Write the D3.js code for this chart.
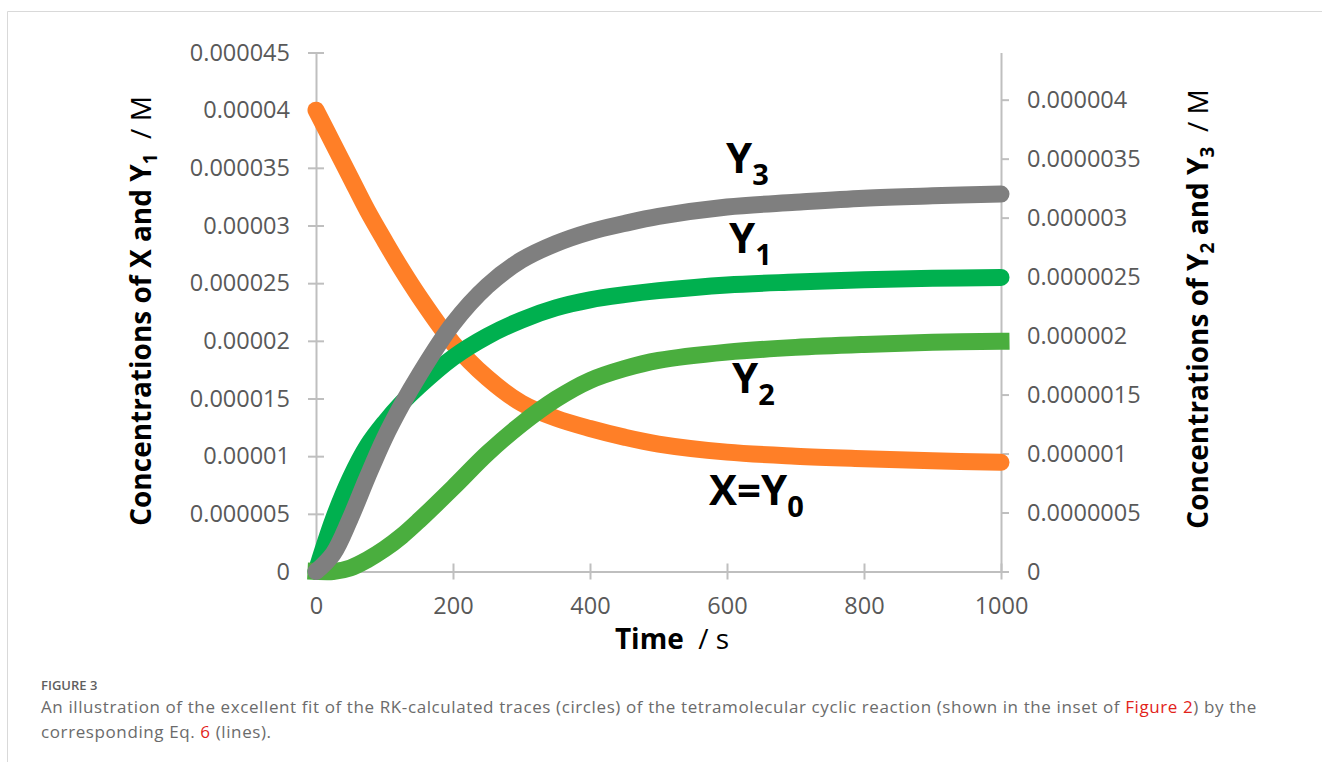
<!DOCTYPE html>
<html>
<head>
<meta charset="utf-8">
<script src="https://cdn.jsdelivr.net/npm/d3@7"></script>
<style>
  html, body { margin: 0; padding: 0; background: #fff; }
  svg { display: block; }
</style>
</head>
<body>
<svg id="chart" width="1322" height="762"></svg>
<script>
// ---- data (concentrations in µM; 1 µM = 1e-6 M) ----
const timePoints = [0, 25, 50, 75, 100, 125, 150, 200, 250, 300, 350, 400, 450, 500, 600, 700, 800, 900, 1000];
const seriesX  = [40.0, 37.1, 34.2, 31.3, 28.7, 26.2, 23.9, 19.8, 16.8, 14.6, 13.3, 12.4, 11.65, 11.05, 10.35, 10.0, 9.78, 9.6, 9.47];
const seriesY1 = [0, 4.5, 8.1, 10.9, 12.9, 14.6, 16.05, 18.55, 20.4, 21.8, 22.85, 23.55, 24.0, 24.35, 24.85, 25.1, 25.3, 25.42, 25.5];
const seriesY2 = [0, 0.0, 0.03, 0.10, 0.19, 0.30, 0.43, 0.71, 1.00, 1.25, 1.46, 1.62, 1.72, 1.79, 1.86, 1.90, 1.925, 1.943, 1.952];
const seriesY3 = [0, 0.15, 0.45, 0.80, 1.13, 1.41, 1.66, 2.10, 2.42, 2.64, 2.78, 2.88, 2.95, 3.01, 3.09, 3.13, 3.165, 3.185, 3.20];

const xTicks = [0, 200, 400, 600, 800, 1000];
const xTickLabels = ["0", "200", "400", "600", "800", "1000"];
const leftTicks = [0, 5, 10, 15, 20, 25, 30, 35, 40, 45];
const leftTickLabels = ["0", "0.000005", "0.00001", "0.000015", "0.00002", "0.000025", "0.00003", "0.000035", "0.00004", "0.000045"];
const rightTicks = [0, 0.5, 1, 1.5, 2, 2.5, 3, 3.5, 4];
const rightTickLabels = ["0", "0.0000005", "0.000001", "0.0000015", "0.000002", "0.0000025", "0.000003", "0.0000035", "0.000004"];
const xDomain = [0, 1000];
const leftDomain = [0, 45];
const rightDomain = [0, 4.4];

// ---- drawing ----
const svg = d3.select("#chart");
const FONT = "'Open Sans', 'DejaVu Sans', sans-serif";
const axisColor = "#bfbfbf";
const tickColor = "#595959";

// outer frame
svg.append("path")
  .attr("d", "M7.5,762 L7.5,11.5 L1322,11.5")
  .attr("fill", "none").attr("stroke", "#d9d9d9").attr("stroke-width", 1);

const x = d3.scaleLinear().domain(xDomain).range([316, 1001]);
const yL = d3.scaleLinear().domain(leftDomain).range([571.5, 52.5]);
const yR = d3.scaleLinear().domain(rightDomain).range([571.5, 52.5]);

function styleAxis(g) {
  g.select(".domain").attr("stroke", axisColor).attr("stroke-width", 2);
  g.selectAll(".tick line").attr("stroke", axisColor).attr("stroke-width", 2);
  g.selectAll(".tick text").attr("fill", tickColor)
    .style("font-family", FONT).style("font-size", "23.5px");
}

// left axis (ticks cross)
const gL = svg.append("g").attr("transform", "translate(316,0)")
  .call(d3.axisLeft(yL).tickValues(leftTicks)
    .tickFormat((d, i) => leftTickLabels[i]).tickSizeOuter(0).tickSizeInner(8).tickPadding(18));
styleAxis(gL);
gL.selectAll(".tick line").attr("x1", 8).attr("x2", -8);

// right axis (ticks outside)
const gR = svg.append("g").attr("transform", "translate(1001,0)")
  .call(d3.axisRight(yR).tickValues(rightTicks)
    .tickFormat((d, i) => rightTickLabels[i]).tickSizeOuter(0).tickSizeInner(8).tickPadding(18));
styleAxis(gR);

// x axis (ticks cross)
const gX = svg.append("g").attr("transform", "translate(0,571.5)")
  .call(d3.axisBottom(x).tickValues(xTicks)
    .tickFormat((d, i) => xTickLabels[i]).tickSizeOuter(0).tickSizeInner(8).tickPadding(18));
styleAxis(gX);
gX.selectAll(".tick line").attr("y1", -8).attr("y2", 8);

// series
const curve = d3.curveCatmullRom.alpha(0.5);
const series = [
  { vals: seriesX,  scale: yL, color: "#ff7f27", cap: "round" },
  { vals: seriesY1, scale: yL, color: "#00b04f", cap: "round" },
  { vals: seriesY2, scale: yR, color: "#4aae3e", cap: "square" },
  { vals: seriesY3, scale: yR, color: "#7f7f7f", cap: "round" }
];
series.forEach(s => {
  const line = d3.line().x((d, i) => x(timePoints[i])).y(d => s.scale(d)).curve(curve);
  svg.append("path")
    .attr("d", line(s.vals))
    .attr("fill", "none")
    .attr("stroke", s.color)
    .attr("stroke-width", 17)
    .attr("stroke-linecap", s.cap)
    .attr("stroke-linejoin", "round");
});

// curve labels
function curveLabel(px, py, main, sub) {
  const t = svg.append("text").attr("x", px).attr("y", py)
    .style("font-family", FONT).style("font-weight", "700").style("font-size", "42px").attr("fill", "#000");
  t.append("tspan").text(main);
  t.append("tspan").text(sub).style("font-size", "29px").attr("dy", 12);
}
curveLabel(726, 173, "Y", "3");
curveLabel(729, 253, "Y", "1");
curveLabel(732, 393, "Y", "2");
curveLabel(709, 505, "X=Y", "0");

// axis titles (rotated)
function rotTitle(cx, cy, parts) {
  const t = svg.append("text")
    .attr("transform", `translate(${cx},${cy}) rotate(-90)`)
    .attr("text-anchor", "middle")
    .style("font-family", FONT).style("font-size", "28px").attr("fill", "#000");
  let shift = 0;
  parts.forEach(p => {
    const ts = t.append("tspan").text(p.text);
    if (p.bold) ts.style("font-weight", "700");
    const target = p.sub ? 6 : 0;
    if (p.sub) ts.style("font-size", "19px");
    if (target !== shift) { ts.attr("dy", target - shift); shift = target; }
  });
}
rotTitle(151, 311, [
  { text: "Concentrations of X and Y", bold: true },
  { text: "1", bold: true, sub: true },
  { text: "\u00a0\u00a0/ M" }
]);
rotTitle(1208, 309, [
  { text: "Concentrations of Y", bold: true },
  { text: "2", bold: true, sub: true },
  { text: " and Y", bold: true },
  { text: "3", bold: true, sub: true },
  { text: "\u00a0\u00a0/ M" }
]);

const xt = svg.append("text").attr("x", 672).attr("y", 649).attr("text-anchor", "middle")
  .style("font-family", FONT).style("font-size", "28px").attr("fill", "#000");
xt.append("tspan").text("Time").style("font-weight", "700");
xt.append("tspan").text("\u00a0\u00a0/ s");

// caption
svg.append("text").attr("x", 41).attr("y", 690)
  .style("font-family", FONT).style("font-size", "13px").style("font-weight", "600")
  .attr("fill", "#5f5f5f").text("FIGURE 3");
const c1 = svg.append("text").attr("x", 41).attr("y", 713)
  .style("font-family", FONT).style("font-size", "17px").attr("fill", "#6b6b6b");
c1.append("tspan").text("An illustration of the excellent fit of the RK-calculated traces (circles) of the tetramolecular cyclic reaction (shown in the inset of ");
c1.append("tspan").text("Figure 2").attr("fill", "#e2231a");
c1.append("tspan").text(") by the");
const c2 = svg.append("text").attr("x", 41).attr("y", 738)
  .style("font-family", FONT).style("font-size", "17px").attr("fill", "#6b6b6b");
c2.append("tspan").text("corresponding Eq. ");
c2.append("tspan").text("6").attr("fill", "#e2231a");
c2.append("tspan").text(" (lines).");
// stretch caption lines to the reference width
const w1 = c1.node().getComputedTextLength();
const n1 = c1.text().length;
c1.style("letter-spacing", ((1216 - w1) / n1) + "px");
c2.style("letter-spacing", ((1216 - w1) / n1) + "px");
</script>
</body>
</html>
